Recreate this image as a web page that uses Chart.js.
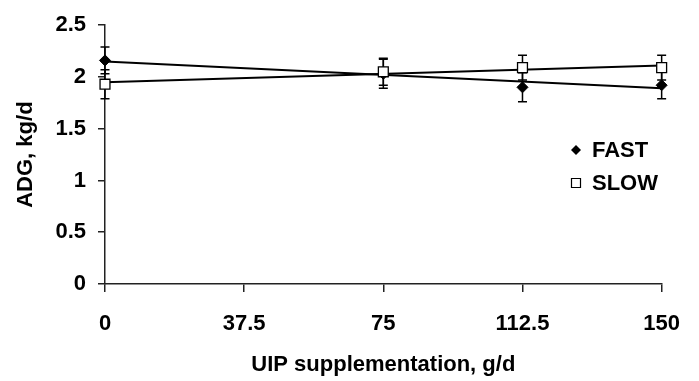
<!DOCTYPE html>
<html>
<head>
<meta charset="utf-8">
<script src="https://cdn.jsdelivr.net/npm/chart.js@4/dist/chart.umd.min.js"></script>
<style>
  html, body { margin: 0; padding: 0; background: #fff; }
  #wrap { width: 699px; height: 381px; position: relative; }
</style>
</head>
<body>
<div id="wrap"><canvas id="c" width="699" height="381"></canvas></div>
<script>
// ---- data ----
const xValues = [0, 75, 112.5, 150];
const fastMeans = [2.16, 2.03, 1.90, 1.92];
const fastErrors = [0.13, 0.14, 0.14, 0.13];
const slowMeans = [1.93, 2.05, 2.09, 2.09];
const slowErrors = [0.14, 0.13, 0.12, 0.12];
// fitted trend lines (end points)
const trendX = [0, 150];
const fastTrend = [2.15, 1.89];
const slowTrend = [1.95, 2.11];
const xTicks = [0, 37.5, 75, 112.5, 150];
const yTicks = [0, 0.5, 1, 1.5, 2, 2.5];
const seriesNames = ['FAST', 'SLOW'];
const xTitle = 'UIP supplementation, g/d';
const yTitle = 'ADG, kg/d';

const FONT = '"Liberation Sans", Arial, Helvetica, sans-serif';
const toPts = (xs, ys) => xs.map((x, i) => ({x: x, y: ys[i]}));

const errorBars = {
  id: 'errorBars',
  beforeDatasetsDraw(chart) {
    const ctx = chart.ctx;
    const xs = chart.scales.x, ys = chart.scales.y;
    const sets = [[fastMeans, fastErrors], [slowMeans, slowErrors]];
    ctx.save();
    ctx.strokeStyle = '#000';
    ctx.lineWidth = 1.5;
    sets.forEach(([m, e]) => {
      xValues.forEach((xv, i) => {
        const px = xs.getPixelForValue(xv);
        const top = ys.getPixelForValue(m[i] + e[i]);
        const bot = ys.getPixelForValue(m[i] - e[i]);
        ctx.beginPath();
        ctx.moveTo(px, top); ctx.lineTo(px, bot);
        ctx.moveTo(px - 4.5, top); ctx.lineTo(px + 4.5, top);
        ctx.moveTo(px - 4.5, bot); ctx.lineTo(px + 4.5, bot);
        ctx.stroke();
      });
    });
    ctx.restore();
  }
};

const customLegend = {
  id: 'customLegend',
  afterDraw(chart) {
    const ctx = chart.ctx;
    ctx.save();
    ctx.font = 'bold 22px ' + FONT;
    ctx.textBaseline = 'middle';
    ctx.fillStyle = '#000';
    const items = [
      {name: seriesNames[0], y: 150, style: 'diamond'},
      {name: seriesNames[1], y: 183, style: 'square'}
    ];
    items.forEach(it => {
      const mx = 576;
      ctx.beginPath();
      if (it.style === 'diamond') {
        ctx.moveTo(mx - 5, it.y); ctx.lineTo(mx, it.y - 5);
        ctx.lineTo(mx + 5, it.y); ctx.lineTo(mx, it.y + 5);
        ctx.closePath();
        ctx.fillStyle = '#000'; ctx.fill();
      } else {
        ctx.rect(mx - 4.5, it.y - 4.5, 9, 9);
        ctx.fillStyle = '#fff'; ctx.fill();
        ctx.lineWidth = 1.2; ctx.strokeStyle = '#000'; ctx.stroke();
      }
      ctx.fillStyle = '#000';
      ctx.fillText(it.name, 592, it.y + 1);
    });
    ctx.restore();
  }
};

new Chart(document.getElementById('c'), {
  type: 'scatter',
  data: {
    datasets: [
      { label: seriesNames[0] + ' trend', type: 'line', data: toPts(trendX, fastTrend),
        borderColor: '#000', borderWidth: 2, pointRadius: 0, fill: false, order: 3, clip: false },
      { label: seriesNames[1] + ' trend', type: 'line', data: toPts(trendX, slowTrend),
        borderColor: '#000', borderWidth: 2, pointRadius: 0, fill: false, order: 3, clip: false },
      { label: seriesNames[0], data: toPts(xValues, fastMeans), pointStyle: 'rectRot',
        pointRadius: 5.5, backgroundColor: '#000', borderColor: '#000', borderWidth: 1, order: 2, clip: false },
      { label: seriesNames[1], data: toPts(xValues, slowMeans), pointStyle: 'rect',
        pointRadius: 7, backgroundColor: '#fff', borderColor: '#000', borderWidth: 1.3, order: 1, clip: false }
    ]
  },
  options: {
    responsive: false,
    animation: false,
    layout: { padding: { top: 16, right: 33, bottom: 0, left: 0 } },
    plugins: { legend: { display: false }, tooltip: { enabled: false } },
    scales: {
      x: {
        type: 'linear', min: 0, max: 150,
        afterBuildTicks: s => { s.ticks = xTicks.map(v => ({value: v})); },
        afterFit: s => { s.height = 97; },
        ticks: { color: '#000', font: { family: FONT, size: 22, weight: 'bold' }, padding: 19,
                 maxRotation: 0, autoSkip: false, callback: v => String(v) },
        grid: { display: true, drawOnChartArea: false, drawTicks: true, tickLength: 8,
                color: '#222', lineWidth: 1.5 },
        border: { display: true, color: '#222', width: 1.5 },
        title: { display: true, text: xTitle, color: '#000',
                 font: { family: FONT, size: 22, weight: 'bold' }, padding: { top: 0, bottom: 3 } }
      },
      y: {
        type: 'linear', min: 0, max: 2.5,
        afterBuildTicks: s => { s.ticks = yTicks.map(v => ({value: v})); },
        afterFit: s => { s.width = 105; },
        ticks: { color: '#000', font: { family: FONT, size: 22, weight: 'bold' }, padding: 12,
                 callback: v => String(v) },
        grid: { display: true, drawOnChartArea: false, drawTicks: true, tickLength: 7,
                color: '#222', lineWidth: 1.5 },
        border: { display: true, color: '#222', width: 1.5 },
        title: { display: true, text: yTitle, color: '#000',
                 font: { family: FONT, size: 22, weight: 'bold' }, padding: { top: 13, bottom: 0 } }
      }
    }
  },
  plugins: [errorBars, customLegend]
});
</script>
</body>
</html>
